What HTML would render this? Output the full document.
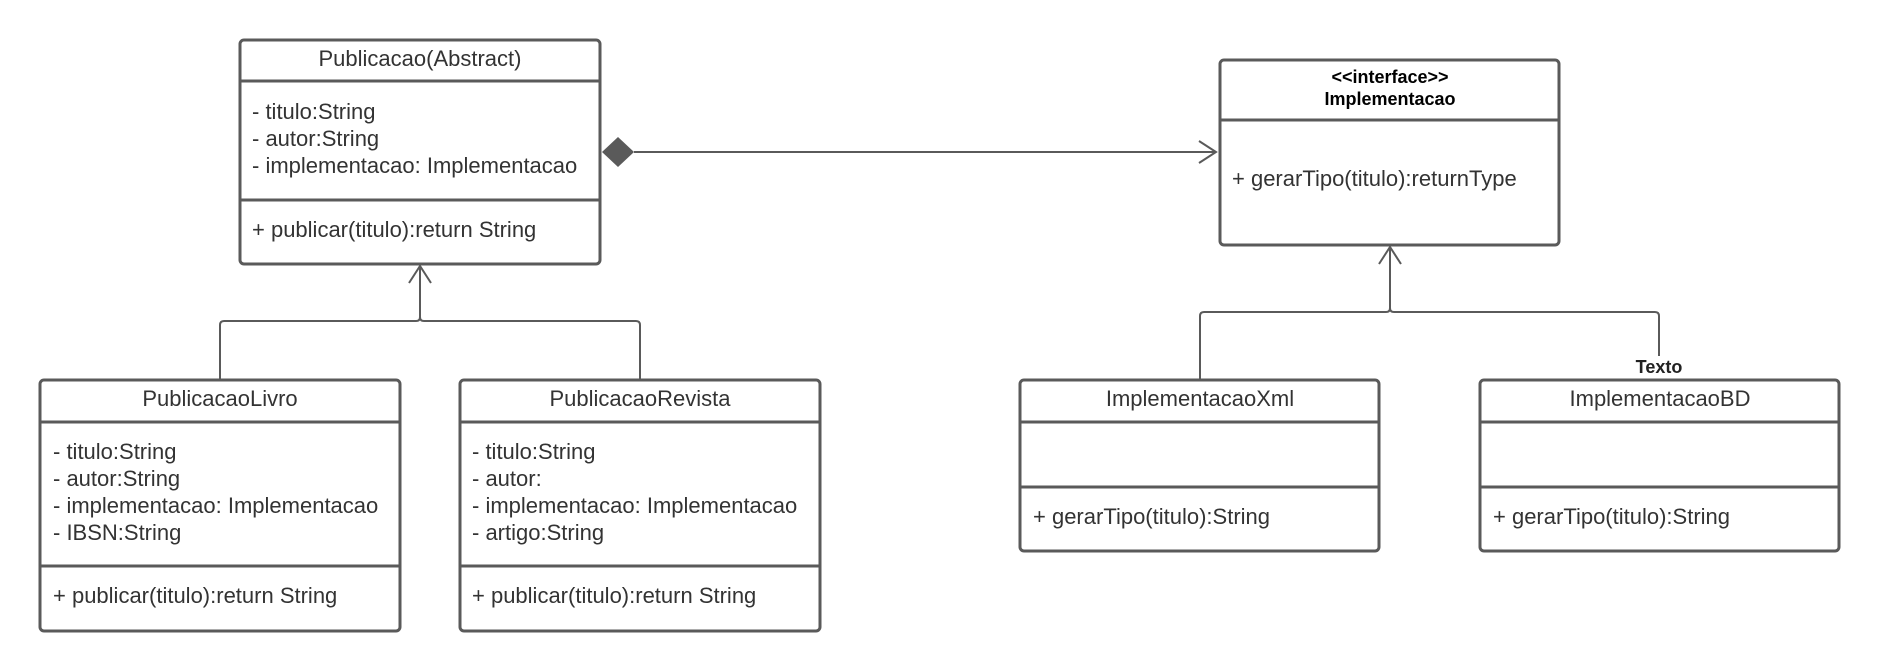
<!DOCTYPE html>
<html><head><meta charset="utf-8"><style>
html,body{margin:0;padding:0;background:#fff;}
svg{display:block;}
text{font-family:"Liberation Sans",sans-serif;fill:#333;}
</style></head><body>
<svg width="1880" height="671" viewBox="0 0 1880 671" xmlns="http://www.w3.org/2000/svg">
<g fill="#fff" stroke="#5a5a5a" stroke-width="3">
<rect x="240" y="40" width="360" height="224" rx="4"/>
<line x1="240" y1="81" x2="600" y2="81"/><line x1="240" y1="200" x2="600" y2="200"/>
<rect x="40" y="380" width="360" height="251" rx="4"/>
<line x1="40" y1="422" x2="400" y2="422"/><line x1="40" y1="566" x2="400" y2="566"/>
<rect x="460" y="380" width="360" height="251" rx="4"/>
<line x1="460" y1="422" x2="820" y2="422"/><line x1="460" y1="566" x2="820" y2="566"/>
<rect x="1220" y="60" width="339" height="185" rx="4"/>
<line x1="1220" y1="120" x2="1559" y2="120"/>
<rect x="1020" y="380" width="359" height="171" rx="4"/>
<line x1="1020" y1="422" x2="1379" y2="422"/><line x1="1020" y1="487" x2="1379" y2="487"/>
<rect x="1480" y="380" width="359" height="171" rx="4"/>
<line x1="1480" y1="422" x2="1839" y2="422"/><line x1="1480" y1="487" x2="1839" y2="487"/>
</g>
<g fill="none" stroke="#5a5a5a" stroke-width="2">
<line x1="634" y1="152" x2="1216" y2="152"/>
<polyline points="1199,141 1216,152 1199,163"/>
<path d="M220 380 V325 Q220 321 224 321 H416 Q420 321 420 317 V266 M420 317 Q420 321 424 321 H636 Q640 321 640 325 V380"/>
<polyline points="409,283 420,266 431,283"/>
<path d="M1200 380 V316 Q1200 312 1204 312 H1386 Q1390 312 1390 308 V247 M1390 308 Q1390 312 1394 312 H1655 Q1659 312 1659 316 V356"/>
<polyline points="1379,264 1390,247 1401,264"/>
</g>
<polygon points="602,152 618,137 634,152 618,167" fill="#5a5a5a"/>
<g font-size="22">
<text x="420" y="66" text-anchor="middle">Publicacao(Abstract)</text>
<text x="252" y="119">- titulo:String</text>
<text x="252" y="146">- autor:String</text>
<text x="252" y="173">- implementacao: Implementacao</text>
<text x="252" y="237">+ publicar(titulo):return String</text>
<text x="220" y="406" text-anchor="middle">PublicacaoLivro</text>
<text x="53" y="459">- titulo:String</text>
<text x="53" y="486">- autor:String</text>
<text x="53" y="513">- implementacao: Implementacao</text>
<text x="53" y="540">- IBSN:String</text>
<text x="53" y="603">+ publicar(titulo):return String</text>
<text x="640" y="406" text-anchor="middle">PublicacaoRevista</text>
<text x="472" y="459">- titulo:String</text>
<text x="472" y="486">- autor:</text>
<text x="472" y="513">- implementacao: Implementacao</text>
<text x="472" y="540">- artigo:String</text>
<text x="472" y="603">+ publicar(titulo):return String</text>
<text x="1232" y="186">+ gerarTipo(titulo):returnType</text>
<text x="1200" y="406" text-anchor="middle">ImplementacaoXml</text>
<text x="1033" y="524">+ gerarTipo(titulo):String</text>
<text x="1660" y="406" text-anchor="middle">ImplementacaoBD</text>
<text x="1493" y="524">+ gerarTipo(titulo):String</text>
</g>
<g font-size="18" font-weight="bold" text-anchor="middle">
<text x="1390" y="83" style="fill:#000">&lt;&lt;interface&gt;&gt;</text>
<text x="1390" y="105" style="fill:#000">Implementacao</text>
<text x="1659" y="373" style="fill:#222">Texto</text>
</g>
</svg>
</body></html>
